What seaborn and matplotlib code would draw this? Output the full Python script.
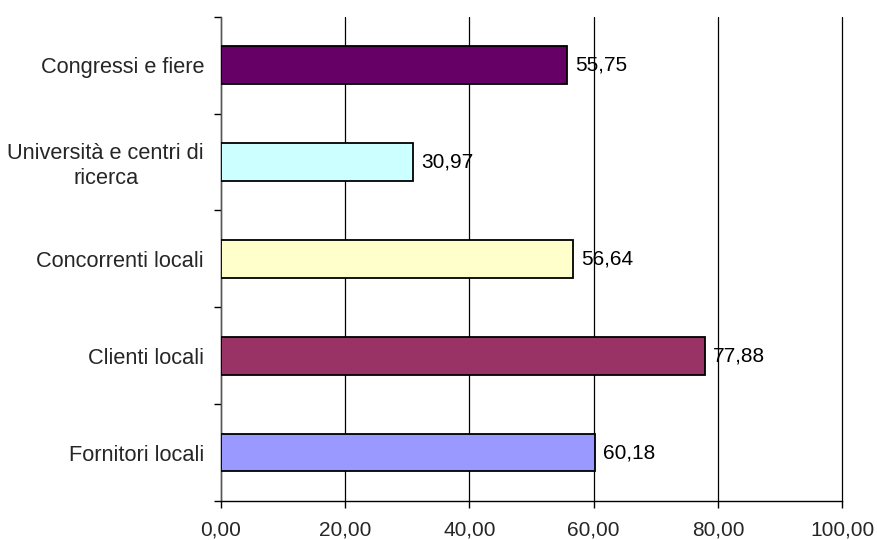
import matplotlib
matplotlib.use("Agg")
import matplotlib.pyplot as plt
import seaborn as sns
import pandas as pd

categories = ["Congressi e fiere", "Università e centri di\nricerca",
              "Concorrenti locali", "Clienti locali", "Fornitori locali"]
values = [55.75, 30.97, 56.64, 77.88, 60.18]
colors = ["#660066", "#CCFFFF", "#FFFFCC", "#993366", "#9999FF"]
xticks = [0, 20, 40, 60, 80, 100]

sns.set_theme(style="white")
plt.rcParams["font.family"] = ["Liberation Sans", "DejaVu Sans"]

df = pd.DataFrame({"cat": categories, "val": values})

fig = plt.figure(figsize=(8.78, 5.40), dpi=100)
ax = fig.add_axes([220.7 / 878, 1 - 501 / 540, (842.3 - 220.7) / 878, (501 - 16.7) / 540])

sns.barplot(data=df, x="val", y="cat", hue="cat", palette=colors, order=categories,
            hue_order=categories, orient="h", width=0.39, edgecolor="black",
            linewidth=1.3, saturation=1, legend=False, ax=ax, zorder=3)

ax.set_xlim(0, 100)
ax.set_ylim(len(categories) - 0.5, -0.5)
ax.set_xticks(xticks)
ax.set_xticklabels([f"{t:.2f}".replace(".", ",") for t in xticks], fontsize=15)
ax.xaxis.grid(True, color="black", linewidth=0.9, zorder=0)
for gl in ax.get_xgridlines():
    gl.set_clip_on(False)
ax.yaxis.grid(False)
ax.set_axisbelow(True)

ax.set_yticks(range(len(categories)))
ax.set_yticklabels(categories, fontsize=15.7, multialignment="center", linespacing=1.24)
ax.set_yticks([i - 0.5 for i in range(len(categories) + 1)], minor=True)
ax.tick_params(axis="y", which="major", length=0, pad=12)
ax.tick_params(axis="y", which="minor", length=5, width=1, color="black", direction="out", left=True)
ax.tick_params(axis="x", which="major", length=5, width=1, color="black", direction="out",
               bottom=True, pad=9)

for s in ["top", "right"]:
    ax.spines[s].set_visible(False)
for s in ["left", "bottom"]:
    ax.spines[s].set_color("#555555" if s == "left" else "black")
    ax.spines[s].set_linewidth(1)

ax.set_xlabel("")
ax.set_ylabel("")

for i, v in enumerate(values):
    ax.text(v + 1.3, i, f"{v:.2f}".replace(".", ","), va="center", ha="left",
            fontsize=15, color="black", zorder=4)

fig.savefig("out.png", dpi=100)
